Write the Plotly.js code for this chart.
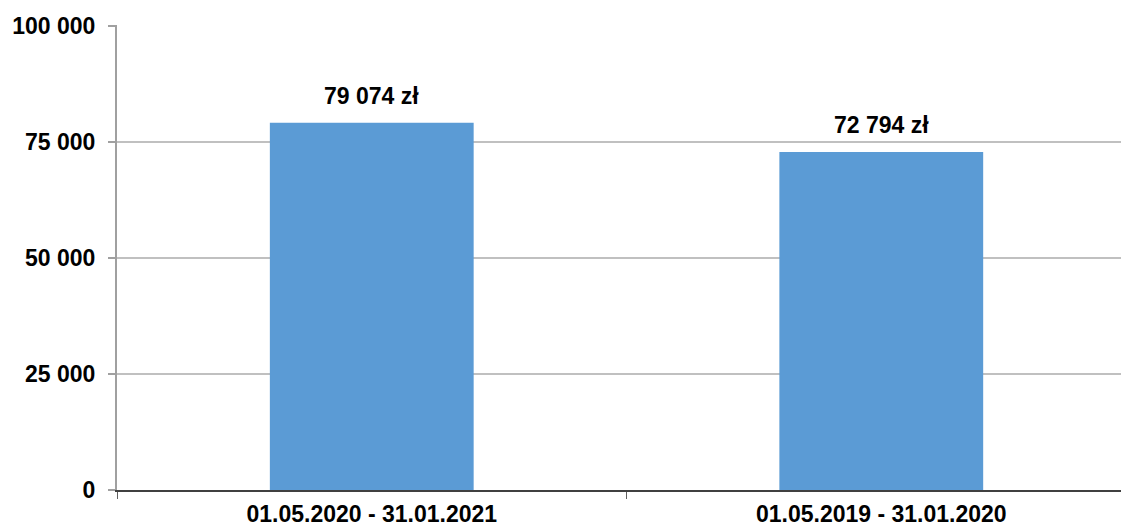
<!DOCTYPE html>
<html>
<head>
<meta charset="utf-8">
<script src="https://cdn.plot.ly/plotly-3.0.1.min.js"></script>
<style>
  html, body { margin: 0; padding: 0; background: #ffffff; }
  #chart { width: 1121px; height: 528px; }
</style>
</head>
<body>
<div id="chart"></div>
<script>
// Data
var categories = ['01.05.2020 - 31.01.2021', '01.05.2019 - 31.01.2020'];
var values = [79074, 72794];
var currencySuffix = ' zł';
var yTickValues = [0, 25000, 50000, 75000, 100000];

function fmt(n) {
  return String(Math.round(n)).replace(/\B(?=(\d{3})+(?!\d))/g, ' ');
}

var fontFamily = '"Liberation Sans", Arial, sans-serif';
var labelFont = { family: fontFamily, size: 23, color: '#000000', weight: 'bold' };

var trace = {
  type: 'bar',
  x: categories,
  y: values,
  width: 0.4,
  marker: { color: '#5b9bd5', line: { width: 0 } },
  hoverinfo: 'none'
};

var annotations = categories.map(function (c, i) {
  return {
    x: c, y: values[i], xref: 'x', yref: 'y',
    text: '<b>' + fmt(values[i]) + currencySuffix + '</b>',
    showarrow: false, yanchor: 'bottom', xanchor: 'center',
    yshift: 12,
    font: labelFont
  };
});

var layout = {
  width: 1121, height: 528,
  margin: { l: 117, r: 0, t: 25, b: 38 },
  paper_bgcolor: '#ffffff', plot_bgcolor: '#ffffff',
  separators: ', ',
  showlegend: false,
  font: labelFont,
  xaxis: {
    type: 'category',
    range: [-0.5, 1.4705],
    showgrid: false,
    showline: true, linecolor: '#404040', linewidth: 1.5,
    ticks: 'outside', tickson: 'boundaries', ticklen: 7, tickcolor: '#606060', tickwidth: 1,
    ticklabelstandoff: 3,
    tickfont: labelFont,
    fixedrange: true
  },
  yaxis: {
    range: [0, 100150],
    tickvals: yTickValues,
    ticktext: yTickValues.map(fmt),
    showgrid: true, gridcolor: '#c0c0c0', gridwidth: 2,
    zeroline: false,
    showline: true, linecolor: '#a0a0a0', linewidth: 2,
    ticks: 'outside', ticklen: 7, tickcolor: '#a0a0a0', tickwidth: 2,
    ticklabelstandoff: 8,
    tickfont: labelFont,
    fixedrange: true
  },
  annotations: annotations
};

Plotly.newPlot('chart', [trace], layout, { displayModeBar: false, staticPlot: true });
</script>
</body>
</html>
